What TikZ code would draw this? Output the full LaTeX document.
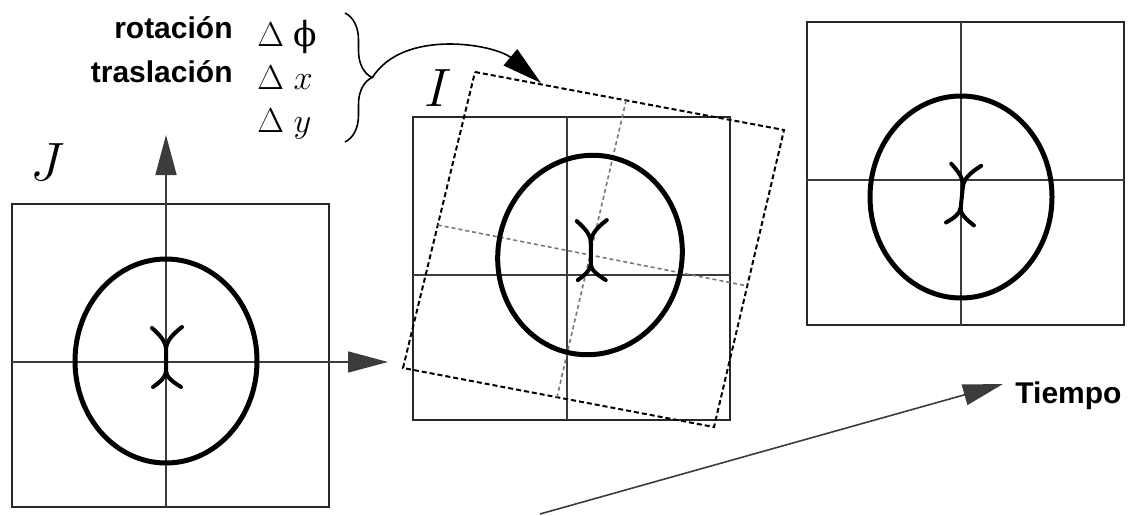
\documentclass[tikz,border=0pt]{standalone}
\usepackage{fontspec}
\setsansfont{Liberation Sans}
\newfontfamily\phifont{DejaVu Serif}
\usepackage{tikz}
\usetikzlibrary{arrows.meta,decorations.pathreplacing,positioning,calc}
\definecolor{frameGray}{RGB}{40,40,40}
\definecolor{axisGray}{RGB}{60,60,60}
\definecolor{dotGray}{RGB}{120,120,120}

\tikzset{
  boxline/.style={frameGray, line width=1pt},
  axisline/.style={axisGray, line width=0.8pt},
  dashbox/.style={black, line width=1pt, dash pattern=on 2.5pt off 1.5pt},
  dotaxis/.style={dotGray, line width=0.8pt, dash pattern=on 2pt off 1.5pt},
  blob/.style={black, line width=2.5pt},
  symline/.style={black, line width=2pt, line cap=round},
  bigtip/.style={-{Triangle[length=20pt,width=10.5pt]}},
  lbl/.style={font=\sffamily\bfseries\fontsize{15}{15}\selectfont, inner sep=0pt},
  mth/.style={font=\LARGE, inner sep=0pt},
  biglbl/.style={font=\Huge, scale=1.085},
  frm/.pic={
    \draw[boxline] (-154,-145) rectangle (163,158);
    \draw[axisline] (0,-145) -- (0,158) (-154,0) -- (163,0);
  },
  ysym/.pic={
    \draw[symline] (-14,30) .. controls (-5,22) and (0,16) .. (0,8) -- (0,-13)
      .. controls (0,-19) and (-6,-24) .. (-13,-29);
    \draw[symline] (16,31) .. controls (7,24) and (0,17) .. (0,8);
    \draw[symline] (0,-13) .. controls (0,-19) and (7,-24) .. (15,-29);
  },
}

\begin{document}
\begin{tikzpicture}[x=0.5pt,y=0.5pt]
\useasboundingbox (0,0) rectangle (1128,515);

% frame J with its axes
\begin{scope}[shift={(166,153)}]
  \draw[boxline] (-154,-145) rectangle (163,158);
  \draw[axisline, bigtip] (0,-145) -- (0,227);
  \draw[axisline, bigtip] (-154,0) -- (222,0);
  \draw[blob] (0,1) ellipse [x radius=91, y radius=102];
  \pic at (0,4) {ysym};
\end{scope}
\node[biglbl] (jlab) at (48,353) {$J$};

% frame I, fixed grid and the moved image
\pic at (567,240) {frm};
\coordinate (d1) at (475,443);
\coordinate (d2) at (784,385);
\coordinate (d3) at (714,88);
\coordinate (d4) at (403,147);
\draw[dashbox] (d1) -- (d2) -- (d3) -- (d4) -- cycle;
\draw[dotaxis] ($(d1)!0.489!(d2)$) -- ($(d4)!0.495!(d3)$);
\draw[dotaxis] ($(d1)!0.517!(d4)$) -- ($(d2)!0.525!(d3)$);
\begin{scope}[shift={(590,260)}, rotate=-11]
  \draw[blob] (0,0) ellipse [x radius=92, y radius=100];
  \pic at (0,4) {ysym};
\end{scope}
\node[biglbl] (ilab) at (438,427) {$I$};

% third frame
\pic at (961,335) {frm};
\draw[blob] (961,318) ellipse [x radius=91, y radius=101];
\pic[rotate=-6] at (962,320) {ysym};

% parameters
\node[lbl, anchor=base east] (rot) at (233,476) {rotación};
\node[lbl, anchor=base east] (tras) at (233,432) {traslación};
\node[mth, anchor=base west] (dphi) at (257,468) {$\Delta$\;{\phifont ϕ}};
\node[mth, anchor=base west] (dx) at (257,425) {$\Delta\;x$};
\node[mth, anchor=base west] (dy) at (257,382) {$\Delta\;y$};
\draw[black, line width=0.8pt, decorate, decoration={brace, amplitude=13.5pt}]
  (345,502) -- (345,373);
\coordinate (btip) at (372,437);
\coordinate (rtip) at (541,432);
\draw[black, line width=0.8pt, bigtip] (btip) to[out=58, in=140, looseness=0.9] (rtip);

% time axis
\coordinate (tstart) at (540,1);
\coordinate (ttip) at (1003,131);
\node[lbl, anchor=base west] (tiempo) at (1015,112) {Tiempo};
\draw[axisline, bigtip] (tstart) -- (ttip);
\end{tikzpicture}
\end{document}
